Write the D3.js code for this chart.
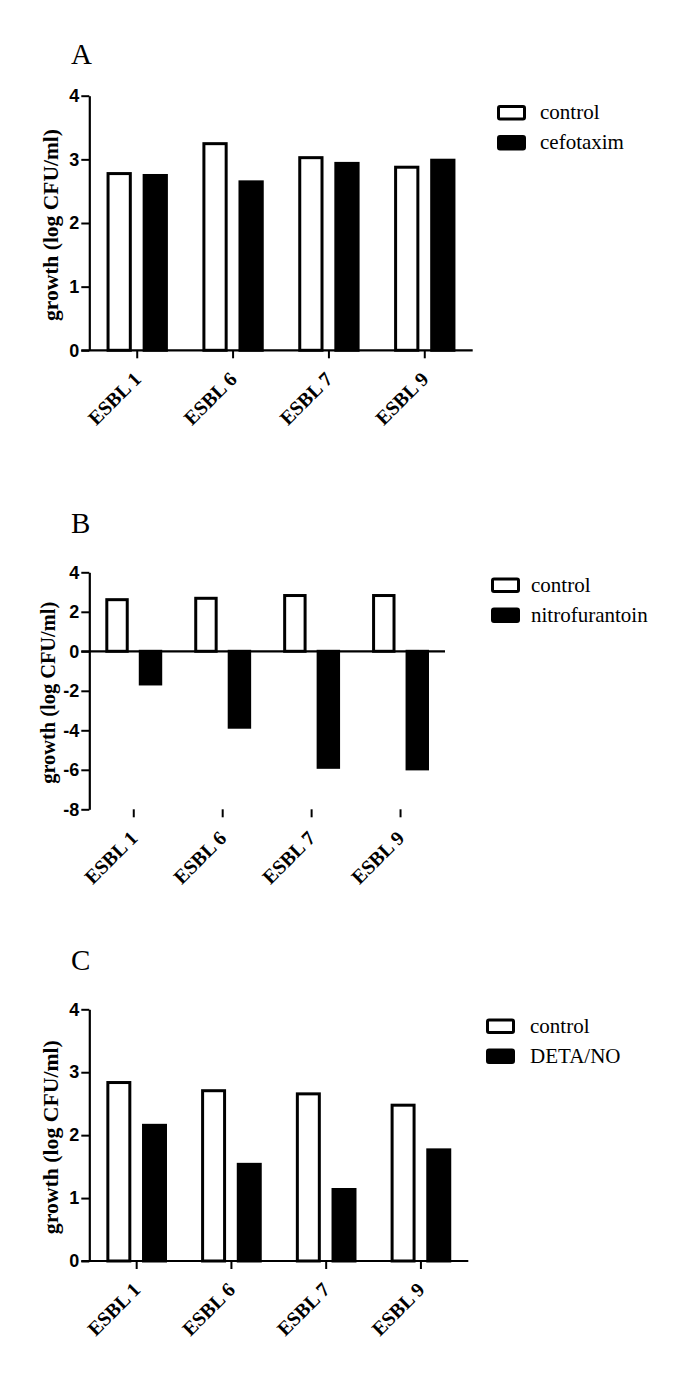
<!doctype html>
<html>
<head>
<meta charset="utf-8">
<script src="https://d3js.org/d3.v7.min.js"></script>
<style>
  body { margin: 0; background: #fff; }
  svg { display: block; }
</style>
</head>
<body>
<div id="chart"></div>
<script>
// values
const categories = ["ESBL 1", "ESBL 6", "ESBL 7", "ESBL 9"];
const controlA = [2.80, 3.27, 3.05, 2.90];
const cefotaxim = [2.77, 2.67, 2.96, 3.01];
const controlB = [2.69, 2.76, 2.90, 2.90];
const nitrofurantoin = [-1.73, -3.92, -5.95, -6.03];
const controlC = [2.86, 2.73, 2.68, 2.50];
const detaNO = [2.18, 1.56, 1.16, 1.79];
const ticksA = [0, 1, 2, 3, 4];
const ticksB = [-8, -6, -4, -2, 0, 2, 4];
const ticksC = [0, 1, 2, 3, 4];

const width = 685, height = 1375;
const serif = "'Liberation Serif', 'Times New Roman', serif";
const sans = "'Liberation Sans', Arial, sans-serif";

const svg = d3.select("#chart").append("svg")
    .attr("width", width)
    .attr("height", height);

const panels = [
    {letter: "A", control: controlA, treat: cefotaxim, treatName: "cefotaxim", ticks: ticksA,
     left: 89.3, right: 472.7, top: 95.7, bottom: 350.3, letterY: 64,
     labelX: 58, labelLen: 192, legX: 497, legY: 105, textX: 540},
    {letter: "B", control: controlB, treat: nitrofurantoin, treatName: "nitrofurantoin", ticks: ticksB,
     left: 89.3, right: 445, top: 572.3, bottom: 809.3, letterY: 533,
     labelX: 55, labelLen: 182, legX: 491, legY: 577.5, textX: 531},
    {letter: "C", control: controlC, treat: detaNO, treatName: "DETA/NO", ticks: ticksC,
     left: 89.3, right: 468.3, top: 1009.3, bottom: 1261, letterY: 970,
     labelX: 58, labelLen: 194, legX: 486, legY: 1018.5, textX: 530}
];

panels.forEach(function (p) {
    const g = svg.append("g");
    const ext = d3.extent(p.ticks);

    const x = d3.scaleBand().domain(categories).range([p.left, p.right]);
    const y = d3.scaleLinear().domain(ext).range([p.bottom, p.top]);
    const groupW = x.bandwidth() * 0.64;
    const x1 = d3.scaleBand().domain(["control", "treat"]).range([0, groupW]).paddingInner(0.3);

    // panel letter
    g.append("text")
        .attr("x", 71)
        .attr("y", p.letterY)
        .attr("font-family", serif)
        .attr("font-size", 29)
        .text(p.letter);

    // bars
    const rows = categories.map(function (c, i) {
        return {cat: c, control: p.control[i], treat: p.treat[i]};
    });
    const sw = 3;
    rows.forEach(function (d) {
        const x0 = x(d.cat) + (x.bandwidth() - groupW) / 2;
        ["control", "treat"].forEach(function (k) {
            const v = d[k];
            const y0 = Math.min(y(v), y(0)), y1 = Math.max(y(v), y(0));
            g.append("rect")
                .attr("x", x0 + x1(k) + sw / 2)
                .attr("y", y0 + (v > 0 ? sw / 2 : 0))
                .attr("width", x1.bandwidth() - sw)
                .attr("height", y1 - y0 - sw / 2)
                .attr("fill", k === "control" ? "#fff" : "#000")
                .attr("stroke", "#000")
                .attr("stroke-width", sw);
        });
    });

    // y axis
    const ya = g.append("g")
        .attr("transform", "translate(" + p.left + ",0)")
        .call(d3.axisLeft(y).tickValues(p.ticks).tickSize(8).tickSizeOuter(0).tickPadding(2)
            .tickFormat(function (d) { return String(d); }));
    ya.select(".domain").attr("stroke-width", 2.2);
    ya.selectAll(".tick line").attr("stroke-width", 2);
    ya.selectAll(".tick text")
        .attr("font-family", sans)
        .attr("font-weight", "bold")
        .attr("font-size", 18)
        .attr("fill", "#000");

    // x axis (ticks hang from the bottom of the plot)
    const xa = g.append("g")
        .attr("transform", "translate(0," + p.bottom + ")")
        .call(d3.axisBottom(x).tickSize(8).tickSizeOuter(0));
    xa.select(".domain").remove();
    xa.selectAll(".tick line").attr("stroke-width", 2);
    xa.selectAll(".tick text")
        .attr("x", 0).attr("y", 0).attr("dy", 0)
        .attr("transform", "translate(5,30) rotate(-45)")
        .attr("text-anchor", "end")
        .attr("font-family", serif)
        .attr("font-weight", "bold")
        .attr("font-size", 20)
        .attr("fill", "#000");

    // zero line
    g.append("line")
        .attr("x1", p.left - 8).attr("x2", p.right)
        .attr("y1", y(0)).attr("y2", y(0))
        .attr("stroke", "#000")
        .attr("stroke-width", 2.2);

    // y label
    g.append("text")
        .attr("transform", "translate(" + p.labelX + "," + ((p.top + p.bottom) / 2 + 2) + ") rotate(-90)")
        .attr("text-anchor", "middle")
        .attr("font-family", serif)
        .attr("font-weight", "bold")
        .attr("font-size", 21)
        .attr("textLength", p.labelLen)
        .attr("lengthAdjust", "spacingAndGlyphs")
        .text("growth (log CFU/ml)");

    // legend
    [["control", "#fff"], [p.treatName, "#000"]].forEach(function (l, i) {
        const ly = p.legY + i * 30;
        g.append("rect")
            .attr("x", p.legX + 1.5).attr("y", ly + 1.5)
            .attr("width", 26).attr("height", 12.5)
            .attr("rx", 1.5)
            .attr("fill", l[1])
            .attr("stroke", "#000")
            .attr("stroke-width", 3);
        g.append("text")
            .attr("x", p.textX)
            .attr("y", ly + 14)
            .attr("font-family", serif)
            .attr("font-size", 21)
            .text(l[0]);
    });
});
</script>
</body>
</html>
